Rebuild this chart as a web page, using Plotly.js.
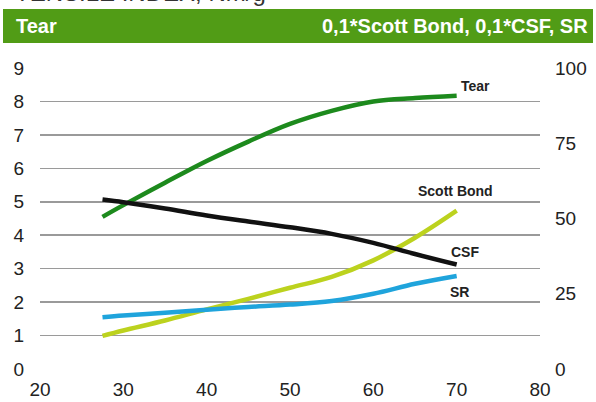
<!DOCTYPE html>
<html>
<head>
<meta charset="utf-8">
<script src="https://cdn.plot.ly/plotly-3.0.1.min.js"></script>
<style>
html,body{margin:0;padding:0;background:#fff;}
#chart{width:596px;height:402px;}
</style>
</head>
<body>
<div id="chart"></div>
<script>
// Data
var refining = [27.5, 30, 35, 40, 45, 50, 55, 60, 65, 70];
var tear = [4.55, 4.9, 5.57, 6.22, 6.8, 7.33, 7.72, 8.0, 8.1, 8.17];          // left axis
var scottBond = [11.0, 12.8, 16.1, 19.8, 23.3, 27.0, 30.6, 36.1, 43.6, 52.6]; // right axis (0,1*)
var csf = [56.3, 55.4, 53.3, 51.0, 49.0, 47.1, 44.9, 41.9, 38.2, 34.7];       // right axis (0,1*)
var sr = [17.2, 17.8, 18.7, 19.7, 20.6, 21.4, 22.6, 25.0, 28.3, 30.9];        // right axis
var leftTicks = [0, 1, 2, 3, 4, 5, 6, 7, 8, 9];
var rightTicks = [0, 25, 50, 75, 100];
var xTicks = [20, 30, 40, 50, 60, 70, 80];

var FONT = "'Liberation Sans', Arial, sans-serif";

var traces = [
  {x: refining, y: tear, yaxis: 'y', mode: 'lines', name: 'Tear',
   line: {color: '#1d8a1d', width: 4.5, shape: 'spline'}},
  {x: refining, y: scottBond, yaxis: 'y2', mode: 'lines', name: 'Scott Bond',
   line: {color: '#bcd21e', width: 4.5, shape: 'spline'}},
  {x: refining, y: csf, yaxis: 'y2', mode: 'lines', name: 'CSF',
   line: {color: '#111111', width: 4.5, shape: 'spline'}},
  {x: refining, y: sr, yaxis: 'y2', mode: 'lines', name: 'SR',
   line: {color: '#1fa4dc', width: 4.5, shape: 'spline'}}
];

var layout = {
  width: 596, height: 402,
  margin: {l: 40, r: 56, t: 68, b: 33, pad: 0},
  paper_bgcolor: '#ffffff', plot_bgcolor: '#ffffff',
  showlegend: false,
  font: {family: FONT, size: 19, color: '#222'},
  xaxis: {
    range: [20, 80], tickvals: xTicks, ticktext: xTicks.map(String),
    showgrid: false, zeroline: false, showline: false, ticks: '',
    ticklabelstandoff: 7, tickfont: {size: 19, color: '#222'}
  },
  yaxis: {
    range: [0, 9], tickvals: leftTicks, ticktext: leftTicks.map(String),
    showgrid: true, gridcolor: '#9a9a9a', gridwidth: 1.6,
    zeroline: false, showline: false, ticks: '',
    ticklabelstandoff: 15, tickfont: {size: 19, color: '#222'}
  },
  yaxis2: {
    range: [0, 100], tickvals: rightTicks, ticktext: rightTicks.map(String),
    overlaying: 'y', side: 'right', showgrid: false, zeroline: false,
    showline: false, ticks: '', ticklabelstandoff: 14,
    tickfont: {size: 19, color: '#222'}
  },
  shapes: [
    {type: 'rect', xref: 'paper', yref: 'paper',
     x0: -0.074, x1: 1.106, y0: 1.083, y1: 1.196,
     fillcolor: '#519c16', line: {width: 0}, layer: 'below'}
  ],
  annotations: [
    {text: 'TENSILE INDEX, Nm/g', xref: 'paper', yref: 'paper',
     x: -0.055, y: 1.25, xanchor: 'left', yanchor: 'middle', showarrow: false,
     font: {family: FONT, size: 24, color: '#333'}},
    {text: '<b>Tear</b>', xref: 'paper', yref: 'paper',
     x: -0.052, y: 1.139, xanchor: 'left', yanchor: 'middle', showarrow: false,
     font: {family: FONT, size: 20, color: '#ffffff'}},
    {text: '<b>0,1*Scott Bond, 0,1*CSF, SR</b>', xref: 'paper', yref: 'paper',
     x: 1.1, y: 1.139, xanchor: 'right', yanchor: 'middle', showarrow: false,
     font: {family: FONT, size: 20, color: '#ffffff'}},
    {text: '<b>Tear</b>', xref: 'x', yref: 'y', x: 72.3, y: 8.45,
     xanchor: 'center', yanchor: 'middle', showarrow: false,
     font: {family: FONT, size: 14, color: '#222'}},
    {text: '<b>Scott Bond</b>', xref: 'x', yref: 'y', x: 69.8, y: 5.32,
     xanchor: 'center', yanchor: 'middle', showarrow: false,
     font: {family: FONT, size: 14, color: '#222'}},
    {text: '<b>CSF</b>', xref: 'x', yref: 'y', x: 71.0, y: 3.5,
     xanchor: 'center', yanchor: 'middle', showarrow: false,
     font: {family: FONT, size: 14, color: '#222'}},
    {text: '<b>SR</b>', xref: 'x', yref: 'y', x: 70.3, y: 2.3,
     xanchor: 'center', yanchor: 'middle', showarrow: false,
     font: {family: FONT, size: 14, color: '#222'}}
  ]
};

Plotly.newPlot('chart', traces, layout, {staticPlot: true, displayModeBar: false});
</script>
</body>
</html>
